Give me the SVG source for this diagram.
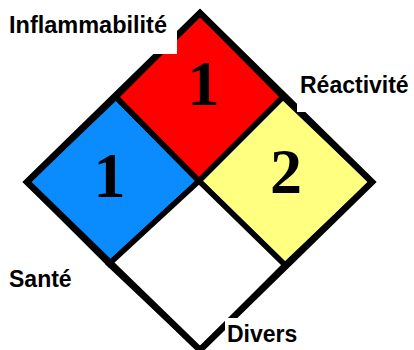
<svg xmlns="http://www.w3.org/2000/svg" width="414" height="350" viewBox="0 0 414 350">
  <style>
    .sq { stroke: #000; stroke-width: 5.5; stroke-linejoin: miter; }
    .num { font-family: "Liberation Serif", "Times New Roman", serif; font-weight: bold; font-size: 64px; fill: #000; text-anchor: middle; }
    .lbl { font-family: "Liberation Sans", Arial, sans-serif; font-weight: bold; font-size: 23px; fill: #000; }
    .box { fill: #fff; }
  </style>
  <rect width="414" height="350" fill="#fff"/>
  <g id="diamond">
    <g id="sante">
      <polygon class="sq" points="116,97 199,181 109,264 27,182" fill="#0a8cff"/>
      <text class="num" x="109.5" y="197">1</text>
    </g>
    <g id="inflammabilite">
      <polygon class="sq" points="200,13 283,97 199,181 116,97" fill="#ff0000"/>
      <text class="num" x="203.5" y="105">1</text>
    </g>
    <g id="reactivite">
      <polygon class="sq" points="283,97 372,182 285,265 199,181" fill="#ffff80"/>
      <text class="num" x="286" y="193">2</text>
    </g>
    <g id="divers">
      <polygon class="sq" points="199,181 285,265 200,350 109,264" fill="#ffffff"/>
    </g>
    <polygon points="200,13 372,182 200,350 27,182" fill="none" stroke="#000" stroke-width="6.5" stroke-linejoin="miter"/>
  </g>
  <g id="label-inflammabilite">
    <rect class="box" x="0" y="0" width="177" height="54"/>
    <text class="lbl" x="9" y="33" style="font-size:23.5px">Inflammabilité</text>
  </g>
  <g id="label-reactivite">
    <rect class="box" x="297" y="66" width="117" height="46"/>
    <text class="lbl" x="300" y="93">Réactivité</text>
  </g>
  <g id="label-sante">
    <text class="lbl" x="9" y="287">Santé</text>
  </g>
  <g id="label-divers">
    <rect class="box" x="225" y="318" width="80" height="32"/>
    <text class="lbl" x="227" y="342">Divers</text>
  </g>
</svg>
